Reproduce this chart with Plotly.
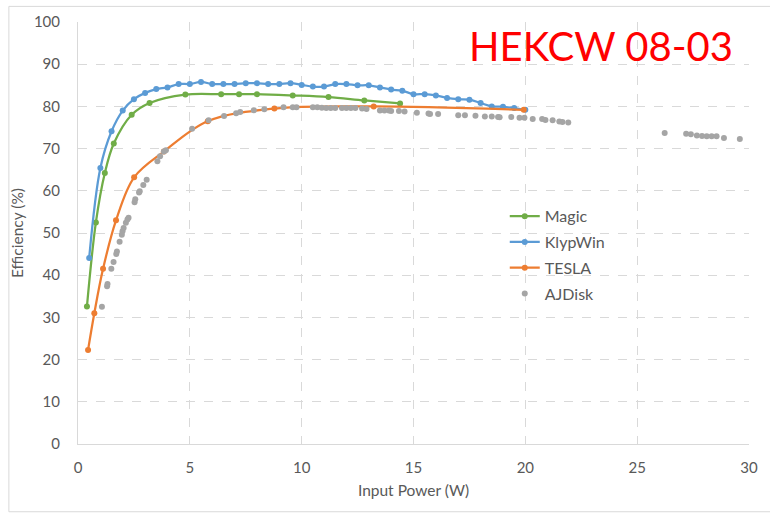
import plotly.graph_objects as go

# ---- data ----
magic_x = [0.4, 0.8, 1.2, 1.6, 2.4, 3.2, 4.8, 6.4, 7.2, 8.0, 9.6, 11.2, 12.8, 14.4]
magic_y = [32.6, 52.5, 64.2, 71.2, 78.0, 80.8, 82.8, 82.9, 82.9, 82.9, 82.6, 82.2, 81.4, 80.7]

klyp_x = [0.5, 1.0, 1.5, 2.0, 2.5, 3.0, 3.5, 4.0, 4.5, 5.0, 5.5, 6.0, 6.5, 7.0, 7.5, 8.0,
          8.5, 9.0, 9.5, 10.0, 10.5, 11.0, 11.5, 12.0, 12.5, 13.0, 13.5, 14.0, 14.5, 15.0,
          15.5, 16.0, 16.5, 17.0, 17.5, 18.0, 18.5, 19.0, 19.5, 20.0]
klyp_y = [44.1, 65.4, 74.1, 79.0, 81.7, 83.2, 84.1, 84.5, 85.3, 85.3, 85.8, 85.3, 85.3, 85.3,
          85.5, 85.5, 85.3, 85.3, 85.5, 85.1, 84.7, 84.7, 85.3, 85.3, 85.0, 85.0, 84.5, 84.0,
          83.7, 82.9, 82.9, 82.6, 82.0, 81.7, 81.6, 80.8, 80.0, 79.9, 79.6, 79.2]

tesla_x = [0.45, 0.73, 1.12, 1.70, 2.51, 3.84, 5.8, 8.78, 13.22, 19.93]
tesla_y = [22.3, 31.0, 41.5, 53.0, 63.2, 69.3, 76.5, 79.5, 80.0, 79.2]

aj_x = [1.07, 1.30, 1.32, 1.49, 1.59, 1.71, 1.74, 1.86, 1.96, 1.99, 2.04, 2.14, 2.21, 2.26,
        2.53, 2.56, 2.73, 2.76, 2.92, 3.07, 3.55, 3.67, 3.84, 3.93, 5.10, 5.84, 6.53, 7.07,
        7.25, 7.86, 8.33, 9.19, 9.60, 9.77, 10.5, 10.7, 10.9, 11.1, 11.3, 11.5, 11.8, 12.0,
        12.2, 12.4, 12.7, 12.9, 13.5, 13.7, 13.9, 14.0, 14.35, 14.6, 15.15, 15.67, 15.74,
        16.1, 17.0, 17.3, 17.77, 18.19, 18.5, 18.78, 18.85, 19.37, 19.74, 19.96, 20.33,
        20.75, 20.9, 21.22, 21.52, 21.66, 21.92, 26.23, 27.19, 27.4, 27.67, 27.9, 28.11,
        28.33, 28.55, 28.88, 29.59]
aj_y = [32.5, 37.4, 37.9, 41.5, 43.1, 45.0, 45.6, 47.9, 49.6, 50.4, 51.2, 52.4, 53.2, 53.6,
        57.3, 58.0, 59.6, 59.9, 61.4, 62.6, 67.0, 68.2, 69.3, 69.6, 74.7, 76.7, 77.7, 78.4,
        78.7, 79.1, 79.3, 79.8, 79.8, 79.8, 79.8, 79.8, 79.7, 79.6, 79.6, 79.6, 79.6, 79.6,
        79.6, 79.6, 79.5, 79.4, 79.0, 79.0, 79.0, 78.9, 78.9, 78.8, 78.5, 78.3, 78.2,
        78.2, 77.9, 77.9, 77.8, 77.6, 77.6, 77.5, 77.4, 77.5, 77.3, 77.3, 77.0,
        77.0, 76.8, 76.7, 76.4, 76.3, 76.2, 73.7, 73.5, 73.4, 73.1, 73.0, 72.9,
        72.9, 72.9, 72.5, 72.3]

x_ticks = [0, 5, 10, 15, 20, 25, 30]
y_ticks = [0, 10, 20, 30, 40, 50, 60, 70, 80, 90, 100]

GREEN = "#70AD47"
BLUE = "#5B9BD5"
ORANGE = "#ED7D31"
GREY = "#A5A5A5"
TXT = "#595959"
GRID = "#D9D9D9"
FONT = "Lato"

fig = go.Figure()
fig.add_trace(go.Scatter(x=magic_x, y=magic_y, name="Magic", mode="lines+markers",
                         legendgroup="g1",
                         line=dict(color=GREEN, width=2.25, shape="spline"),
                         marker=dict(color=GREEN, size=6)))
fig.add_trace(go.Scatter(x=klyp_x, y=klyp_y, name="KlypWin", mode="lines+markers",
                         legendgroup="g2",
                         line=dict(color=BLUE, width=2.25, shape="spline"),
                         marker=dict(color=BLUE, size=6)))
fig.add_trace(go.Scatter(x=tesla_x, y=tesla_y, name="TESLA", mode="lines+markers",
                         legendgroup="g3",
                         line=dict(color=ORANGE, width=2.25, shape="spline"),
                         marker=dict(color=ORANGE, size=6)))
fig.add_trace(go.Scatter(x=aj_x, y=aj_y, name="AJDisk", mode="markers",
                         legendgroup="g4",
                         marker=dict(color=GREY, size=6)))

fig.update_layout(
    width=770, height=514,
    margin=dict(l=77.5, r=18, t=22, b=70, pad=0),
    paper_bgcolor="white", plot_bgcolor="white",
    font=dict(family=FONT, color=TXT, size=14),
    showlegend=True,
    legend=dict(x=0.636, y=0.58, xanchor="left", yanchor="top",
                font=dict(family=FONT, size=16, color=TXT),
                bgcolor="rgba(0,0,0,0)", tracegroupgap=2, itemwidth=30),
    xaxis=dict(range=[0, 30], tickvals=x_ticks, showgrid=True, gridcolor=GRID,
               griddash="dash", gridwidth=1, showline=True, linecolor=GRID, linewidth=1,
               zeroline=False, ticks="", ticklabelstandoff=10,
               tickfont=dict(family=FONT, size=15, color=TXT),
               title=dict(text="Input Power (W)", standoff=10,
                          font=dict(family=FONT, size=15.5, color=TXT))),
    yaxis=dict(range=[0, 100], tickvals=y_ticks, showgrid=True, gridcolor=GRID,
               griddash="dash", gridwidth=1, showline=True, linecolor=GRID, linewidth=1,
               zeroline=False, ticks="", ticklabelstandoff=14,
               tickfont=dict(family=FONT, size=15, color=TXT),
               title=dict(text="Efficiency (%)", standoff=6,
                          font=dict(family=FONT, size=15.5, color=TXT))),
)

# chart frame
fig.add_shape(type="rect", xref="paper", yref="paper",
              x0=(8 - 77.5) / 674.5, x1=(775 - 77.5) / 674.5,
              y0=(444.3 - 512) / 421.7, y1=(444.3 - 7) / 421.7,
              line=dict(color=GRID, width=1), fillcolor="rgba(0,0,0,0)", layer="below")

fig.add_annotation(text="HEKCW 08-03", xref="paper", yref="paper",
                   x=(603 - 77.5) / 674.5, y=(444.3 - 47) / 421.7,
                   xanchor="center", yanchor="middle", showarrow=False,
                   font=dict(family=FONT, size=40, color="#FF0000"))

fig.write_html("out.html")
